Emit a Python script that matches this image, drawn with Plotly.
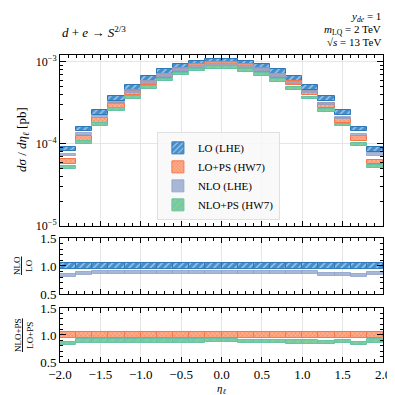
import plotly.graph_objects as go
from plotly.subplots import make_subplots

# ---------------- data ----------------
eta_edges = [-2.0, -1.8, -1.6, -1.4, -1.2, -1.0, -0.8, -0.6, -0.4, -0.2, 0.0,
             0.2, 0.4, 0.6, 0.8, 1.0, 1.2, 1.4, 1.6, 1.8, 2.0]
lo_central = [8.74e-5, 1.52e-4, 2.42e-4, 3.60e-4, 4.91e-4, 6.32e-4, 7.68e-4, 8.92e-4, 9.78e-4, 1.026e-3,
              1.026e-3, 9.78e-4, 8.92e-4, 7.68e-4, 6.32e-4, 4.91e-4, 3.60e-4, 2.42e-4, 1.52e-4, 8.6e-5]
lops_over_lo = [0.70, 0.77, 0.80, 0.82, 0.85, 0.87, 0.88, 0.90, 0.92, 0.93,
                0.93, 0.92, 0.90, 0.88, 0.87, 0.85, 0.82, 0.80, 0.77, 0.70]
nlo_over_lo = [0.835, 0.87, 0.885, 0.885, 0.89, 0.89, 0.89, 0.89, 0.89, 0.89,
               0.89, 0.89, 0.89, 0.89, 0.878, 0.878, 0.855, 0.855, 0.838, 0.867]
nlops_over_lops = [0.85, 0.89, 0.89, 0.89, 0.89, 0.89, 0.89, 0.89, 0.89, 0.898,
                   0.898, 0.88, 0.88, 0.88, 0.87, 0.87, 0.865, 0.88, 0.848, 0.889]
lo_scale_unc = 0.06
lops_scale_unc = 0.06
nlo_scale_unc = 0.03
nlops_scale_unc = 0.035

centers = [(a + b) / 2 for a, b in zip(eta_edges[:-1], eta_edges[1:])]
widths = [b - a for a, b in zip(eta_edges[:-1], eta_edges[1:])]

lops_central = [l * r for l, r in zip(lo_central, lops_over_lo)]
nlo_central = [l * r for l, r in zip(lo_central, nlo_over_lo)]
nlops_central = [l * r for l, r in zip(lops_central, nlops_over_lops)]

FONT = "Liberation Serif, DejaVu Serif, serif"

styles = {
    "LO (LHE)": dict(color="rgba(58,135,200,0.95)", line="#2f78b8",
                     pattern=dict(shape="/", fgcolor="white", size=5, solidity=0.3, fillmode="overlay")),
    "LO+PS (HW7)": dict(color="rgba(252,141,98,0.9)", line="#f8754a",
                        pattern=dict(shape="x", fgcolor="white", size=3, solidity=0.3, fillmode="overlay")),
    "NLO (LHE)": dict(color="rgba(141,160,203,0.75)", line="rgba(141,160,203,0.8)", pattern=None),
    "NLO+PS (HW7)": dict(color="rgba(102,194,165,0.9)", line="rgba(102,194,165,1)",
                         pattern=dict(shape="/", fgcolor="#a6d854", size=6, solidity=0.35, fillmode="overlay")),
}

fig = make_subplots(rows=3, cols=1, shared_xaxes=True, vertical_spacing=0.03)


def band(name, central, unc, row, norm=None, showlegend=False):
    st = styles[name]
    if norm is None:
        lo = [c * (1 - unc) for c in central]
        hi = [c * (1 + unc) for c in central]
    else:
        lo = [c * (1 - unc) / n for c, n in zip(central, norm)]
        hi = [c * (1 + unc) / n for c, n in zip(central, norm)]
    marker = dict(color=st["color"], line=dict(color=st["line"], width=1))
    if st["pattern"] is not None:
        marker["pattern"] = st["pattern"]
    fig.add_trace(go.Bar(x=centers, y=[h - l for h, l in zip(hi, lo)], base=lo, width=widths,
                         marker=marker, name=name, showlegend=showlegend,
                         legendgroup=name), row=row, col=1)


band("LO (LHE)", lo_central, lo_scale_unc, 1, showlegend=True)
band("LO+PS (HW7)", lops_central, lops_scale_unc, 1, showlegend=True)
band("NLO (LHE)", nlo_central, nlo_scale_unc, 1, showlegend=True)
band("NLO+PS (HW7)", nlops_central, nlops_scale_unc, 1, showlegend=True)

band("LO (LHE)", lo_central, lo_scale_unc, 2, norm=lo_central)
band("NLO (LHE)", nlo_central, nlo_scale_unc, 2, norm=lo_central)
band("LO+PS (HW7)", lops_central, lops_scale_unc, 3, norm=lops_central)
band("NLO+PS (HW7)", nlops_central, nlops_scale_unc, 3, norm=lops_central)

fig.update_layout(
    width=395, height=395, barmode="overlay", bargap=0,
    margin=dict(l=52, r=20, t=47, b=41),
    plot_bgcolor="white", paper_bgcolor="white",
    font=dict(family=FONT, size=13, color="black"),
    showlegend=True,
    legend=dict(x=0.3, y=0.748, xanchor="left", yanchor="top",
                bgcolor="rgba(248,248,248,0.85)", bordercolor="#e0e0e0", borderwidth=1,
                font=dict(family=FONT, size=11), tracegroupgap=0, itemwidth=30),
)

common_x = dict(range=[-2, 2], showline=True, linecolor="black", linewidth=1, mirror="allticks",
                ticks="inside", ticklen=5, tickwidth=1, tickcolor="black",
                tick0=-2, dtick=0.5, showgrid=True, gridcolor="#e6e6e6", gridwidth=1, zeroline=False,
                minor=dict(ticks="inside", ticklen=3, tickcolor="black", dtick=0.1, tick0=-2, showgrid=False))
fig.update_xaxes(**common_x)
fig.update_xaxes(showticklabels=False, row=1, col=1)
fig.update_xaxes(showticklabels=False, row=2, col=1)
fig.update_xaxes(tickformat=".1f", tickfont=dict(size=13), row=3, col=1)

fig.update_yaxes(type="log", range=[-5, -2.915], domain=[0.443, 1.0], row=1, col=1,
                 showline=True, linecolor="black", linewidth=1, mirror="allticks",
                 ticks="inside", ticklen=6, tickcolor="black",
                 tickvals=[1e-5, 1e-4, 1e-3], ticktext=["10<sup>−5</sup>", "10<sup>−4</sup>", "10<sup>−3</sup>"],
                 tickfont=dict(size=12),
                 showgrid=True, gridcolor="#e6e6e6", zeroline=False,
                 minor=dict(ticks="inside", ticklen=3, tickcolor="black", dtick="D1", showgrid=False))

ratio_y = dict(range=[0.5, 1.5], showline=True, linecolor="black", linewidth=1, mirror="allticks",
               ticks="inside", ticklen=6, tickcolor="black", tick0=0.5, dtick=0.5, tickformat=".1f",
               tickfont=dict(size=13), showgrid=False, zeroline=False,
               minor=dict(ticks="inside", ticklen=3, tickcolor="black", dtick=0.1, tick0=0.5))
fig.update_yaxes(**ratio_y, domain=[0.2215, 0.404], row=2, col=1)
fig.update_yaxes(**ratio_y, domain=[0.0, 0.176], row=3, col=1)

# axis titles as annotations (pixel-placed)
PW, PH = 323.0, 307.0


def xpx(px):
    return (px - 52) / PW


def ypx(py):
    return (354 - py) / PH


fig.add_annotation(text="<i>η</i><sub><i>ℓ</i></sub>", xref="paper", yref="paper",
                   x=xpx(213), y=ypx(381), xanchor="center", yanchor="middle",
                   showarrow=False, font=dict(size=11))
fig.add_annotation(text="<i>dσ</i> / <i>dη</i><sub><i>ℓ</i></sub> [pb]", xref="paper", yref="paper",
                   x=xpx(14), y=ypx(132), xanchor="center", yanchor="middle", textangle=-90,
                   showarrow=False, font=dict(size=13))
fig.add_annotation(text="<u>NLO</u><br>LO", xref="paper", yref="paper",
                   x=xpx(15), y=ypx(258), xanchor="center", yanchor="middle", textangle=-90,
                   showarrow=False, font=dict(size=9))
fig.add_annotation(text="<u>NLO+PS</u><br>LO+PS", xref="paper", yref="paper",
                   x=xpx(16), y=ypx(327), xanchor="center", yanchor="middle", textangle=-90,
                   showarrow=False, font=dict(size=9))

fig.add_annotation(text="<i>d</i> + <i>e</i> → <i>S</i><sup>2/3</sup>", xref="paper", yref="paper",
                   x=xpx(52), y=ypx(24), xanchor="left", yanchor="middle", showarrow=False,
                   font=dict(size=13))
for txt, py in [("<i>y</i><sub><i>de</i></sub> = 1", 9.5),
                ("<i>m</i><sub>LQ</sub> = 2 TeV", 22),
                ("√<i>s</i> = 13 TeV", 34)]:
    fig.add_annotation(text=txt, xref="paper", yref="paper", x=xpx(375), y=ypx(py),
                       xanchor="right", yanchor="middle", showarrow=False, font=dict(size=11))

fig.write_html("out.html")
